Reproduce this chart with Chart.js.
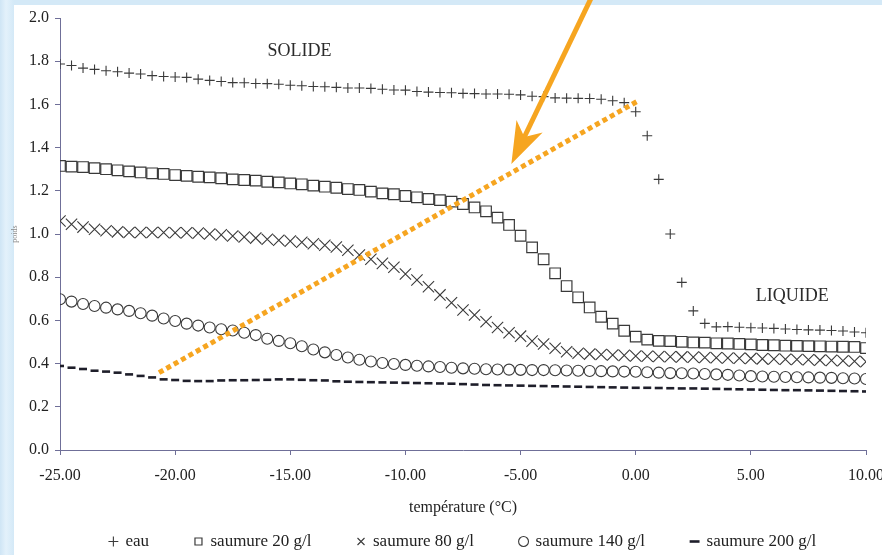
<!DOCTYPE html>
<html>
<head>
<meta charset="utf-8">
<script src="https://cdn.jsdelivr.net/npm/chart.js@4/dist/chart.umd.min.js"></script>
<style>
  html, body { margin: 0; padding: 0; }
  body {
    width: 882px; height: 555px; overflow: hidden; position: relative;
    background: linear-gradient(90deg, #cfe5f5 0px, #e3f1fb 6px, #d4e9f7 14px);
  }
  #panel { position: absolute; left: 14px; top: 5px; right: 0; bottom: 0; background: #ffffff; }
  #wrap { position: absolute; left: 0; top: 0; width: 882px; height: 555px; }
</style>
</head>
<body>
<div id="panel"></div>
<div id="wrap"><canvas id="chart" width="882" height="555"></canvas></div>
<script>
// Température (°C), one reading every 0.5 °C
const temperatures = [
  -25, -24.5, -24, -23.5, -23, -22.5, -22, -21.5, -21, -20.5,
  -20, -19.5, -19, -18.5, -18, -17.5, -17, -16.5, -16, -15.5,
  -15, -14.5, -14, -13.5, -13, -12.5, -12, -11.5, -11, -10.5,
  -10, -9.5, -9, -8.5, -8, -7.5, -7, -6.5, -6, -5.5,
  -5, -4.5, -4, -3.5, -3, -2.5, -2, -1.5, -1, -0.5,
  0, 0.5, 1, 1.5, 2, 2.5, 3, 3.5, 4, 4.5,
  5, 5.5, 6, 6.5, 7, 7.5, 8, 8.5, 9, 9.5,
  10
];

const eau = [
  1.787, 1.780, 1.768, 1.762, 1.756, 1.751, 1.745, 1.741, 1.733, 1.729,
  1.727, 1.725, 1.717, 1.711, 1.706, 1.701, 1.700, 1.697, 1.696, 1.693,
  1.689, 1.686, 1.683, 1.682, 1.679, 1.676, 1.676, 1.674, 1.670, 1.667,
  1.666, 1.660, 1.657, 1.655, 1.654, 1.651, 1.650, 1.648, 1.648, 1.647,
  1.644, 1.638, 1.636, 1.630, 1.629, 1.628, 1.627, 1.624, 1.617, 1.608,
  1.566, 1.455, 1.253, 1.000, 0.776, 0.644, 0.586, 0.570, 0.571, 0.568,
  0.566, 0.565, 0.563, 0.560, 0.558, 0.556, 0.555, 0.553, 0.551, 0.546,
  0.543
];

const saumure20 = [
  1.315, 1.312, 1.310, 1.305, 1.300, 1.295, 1.290, 1.285, 1.281, 1.278,
  1.273, 1.269, 1.265, 1.262, 1.258, 1.253, 1.250, 1.247, 1.242, 1.239,
  1.234, 1.230, 1.224, 1.219, 1.214, 1.208, 1.204, 1.196, 1.188, 1.184,
  1.176, 1.170, 1.162, 1.157, 1.150, 1.139, 1.123, 1.105, 1.076, 1.042,
  0.992, 0.938, 0.883, 0.818, 0.759, 0.707, 0.660, 0.617, 0.585, 0.552,
  0.525, 0.511, 0.505, 0.504, 0.501, 0.498, 0.497, 0.494, 0.493, 0.491,
  0.489, 0.486, 0.485, 0.483, 0.482, 0.481, 0.480, 0.479, 0.478, 0.477,
  0.472
];

const saumure80 = [
  1.060, 1.045, 1.032, 1.022, 1.015, 1.010, 1.007, 1.007, 1.007, 1.007,
  1.006, 1.006, 1.004, 1.000, 0.996, 0.991, 0.986, 0.981, 0.976, 0.971,
  0.967, 0.962, 0.955, 0.948, 0.940, 0.925, 0.903, 0.883, 0.864, 0.846,
  0.815, 0.787, 0.756, 0.718, 0.682, 0.648, 0.625, 0.594, 0.567, 0.543,
  0.527, 0.504, 0.491, 0.471, 0.455, 0.448, 0.444, 0.442, 0.440, 0.438,
  0.435, 0.434, 0.433, 0.432, 0.431, 0.430, 0.428, 0.427, 0.426, 0.425,
  0.424, 0.422, 0.421, 0.420, 0.419, 0.418, 0.416, 0.415, 0.413, 0.411,
  0.409
];

const saumure140 = [
  0.698, 0.687, 0.676, 0.667, 0.659, 0.651, 0.644, 0.633, 0.622, 0.609,
  0.597, 0.585, 0.576, 0.567, 0.559, 0.553, 0.543, 0.532, 0.515, 0.505,
  0.494, 0.480, 0.465, 0.452, 0.440, 0.428, 0.418, 0.410, 0.403, 0.398,
  0.394, 0.390, 0.387, 0.384, 0.381, 0.378, 0.376, 0.374, 0.373, 0.372,
  0.371, 0.370, 0.370, 0.369, 0.368, 0.367, 0.366, 0.365, 0.364, 0.363,
  0.362, 0.360, 0.358, 0.356, 0.355, 0.354, 0.352, 0.350, 0.348, 0.345,
  0.342, 0.340, 0.339, 0.338, 0.337, 0.336, 0.335, 0.334, 0.332, 0.331,
  0.329
];

const saumure200 = [
  0.389, 0.381, 0.375, 0.367, 0.363, 0.358, 0.350, 0.343, 0.336, 0.327,
  0.324, 0.320, 0.319, 0.319, 0.322, 0.323, 0.323, 0.324, 0.325, 0.327,
  0.327, 0.325, 0.323, 0.322, 0.318, 0.316, 0.315, 0.314, 0.313, 0.312,
  0.311, 0.310, 0.309, 0.308, 0.307, 0.305, 0.303, 0.301, 0.300, 0.299,
  0.298, 0.297, 0.296, 0.295, 0.294, 0.293, 0.292, 0.291, 0.290, 0.289,
  0.288, 0.288, 0.287, 0.286, 0.285, 0.285, 0.284, 0.283, 0.282, 0.281,
  0.280, 0.279, 0.278, 0.277, 0.277, 0.276, 0.275, 0.274, 0.273, 0.272,
  0.271
];

const seriesLabels = ['eau', 'saumure 20 g/l', 'saumure 80 g/l', 'saumure 140 g/l', 'saumure 200 g/l'];

// Overlay: dotted trend line, arrow and phase labels (in data units)
const trendLine = { from: [-20.7, 0.358], to: [0.05, 1.613] };
const arrow = { tip: [-5.4, 1.324], tail: [-1.45, 2.2] };
const phaseLabels = [
  { text: 'SOLIDE', at: [-14.6, 1.845] },
  { text: 'LIQUIDE', at: [6.8, 0.713] }
];

const SERIF = '"Liberation Serif", "DejaVu Serif", serif';
const INK = '#3a3a3a';
const AXIS = '#6f6f98';
const ORANGE = '#f6a520';

function toPoints(values) {
  return temperatures.map((t, i) => ({ x: t, y: values[i] }));
}

function markerSet(label, values, style, radius, width, color) {
  return {
    label: label,
    data: toPoints(values),
    showLine: false,
    pointStyle: style,
    pointRadius: radius,
    pointBorderWidth: width,
    borderWidth: width,
    borderColor: color,
    pointBorderColor: color,
    backgroundColor: 'rgba(0,0,0,0)',
    pointBackgroundColor: 'rgba(0,0,0,0)'
  };
}

const overlay = {
  id: 'overlay',
  afterDatasetsDraw(chart) {
    const { ctx, scales: { x, y } } = chart;
    const px = p => [x.getPixelForValue(p[0]), y.getPixelForValue(p[1])];
    ctx.save();

    // dotted orange line
    const a = px(trendLine.from), b = px(trendLine.to);
    ctx.strokeStyle = ORANGE;
    ctx.lineWidth = 5;
    ctx.lineCap = 'butt';
    ctx.setLineDash([5, 3.5]);
    ctx.beginPath();
    ctx.moveTo(a[0], a[1]);
    ctx.lineTo(b[0], b[1]);
    ctx.stroke();
    ctx.setLineDash([]);

    // orange arrow
    const tip = px(arrow.tip), tail = px(arrow.tail);
    const dx = tail[0] - tip[0], dy = tail[1] - tip[1];
    const len = Math.hypot(dx, dy);
    const ux = dx / len, uy = dy / len, nx = -uy, ny = ux;
    const headLen = 42, headHalf = 14.5, notch = 30;
    ctx.fillStyle = ORANGE;
    ctx.lineWidth = 5;
    ctx.beginPath();
    ctx.moveTo(tip[0] + ux * notch, tip[1] + uy * notch);
    ctx.lineTo(tail[0], tail[1]);
    ctx.stroke();
    ctx.beginPath();
    ctx.moveTo(tip[0], tip[1]);
    ctx.lineTo(tip[0] + ux * headLen + nx * headHalf, tip[1] + uy * headLen + ny * headHalf);
    ctx.lineTo(tip[0] + ux * notch, tip[1] + uy * notch);
    ctx.lineTo(tip[0] + ux * headLen - nx * headHalf, tip[1] + uy * headLen - ny * headHalf);
    ctx.closePath();
    ctx.fill();

    // phase labels
    ctx.fillStyle = '#2b2b2b';
    ctx.font = '18px ' + SERIF;
    ctx.textAlign = 'center';
    ctx.textBaseline = 'middle';
    phaseLabels.forEach(l => {
      const p = px(l.at);
      ctx.fillText(l.text, p[0], p[1]);
    });
    ctx.restore();
  }
};

Chart.defaults.font.family = SERIF;
Chart.defaults.color = '#222';

new Chart(document.getElementById('chart'), {
  type: 'scatter',
  data: {
    datasets: [
      markerSet(seriesLabels[0], eau, 'cross', 5, 1.1, INK),
      markerSet(seriesLabels[1], saumure20, 'rect', 7.5, 1.2, INK),
      markerSet(seriesLabels[2], saumure80, 'crossRot', 8, 1.1, INK),
      markerSet(seriesLabels[3], saumure140, 'circle', 5.5, 1.1, INK),
      markerSet(seriesLabels[4], saumure200, 'line', 4, 2.6, '#1e1e2a')
    ]
  },
  options: {
    responsive: false,
    animation: false,
    events: [],
    layout: { padding: { left: 0, right: 16, top: 18, bottom: -5 } },
    plugins: {
      tooltip: { enabled: false },
      legend: {
        position: 'bottom',
        fullSize: false,
        labels: {
          usePointStyle: true,
          boxWidth: 7,
          boxHeight: 7,
          padding: 46,
          color: '#222',
          font: { size: 17, family: SERIF }
        }
      }
    },
    scales: {
      x: {
        type: 'linear',
        min: -25,
        max: 10,
        ticks: {
          stepSize: 5,
          padding: 11,
          color: '#222',
          font: { size: 16, family: SERIF },
          callback: v => Number(v).toFixed(2)
        },
        grid: { display: true, drawOnChartArea: false, drawTicks: true, tickLength: 5, color: AXIS },
        border: { display: true, color: AXIS, width: 1 },
        title: {
          display: true,
          text: 'température (°C)',
          color: '#222',
          font: { size: 16, family: SERIF },
          padding: { top: 0, bottom: -30 }
        },
        afterFit(scale) {
          scale.height = 37;
          scale.paddingLeft = 0;
          scale.paddingRight = 0;
        }
      },
      y: {
        type: 'linear',
        min: 0,
        max: 2,
        ticks: {
          stepSize: 0.2,
          padding: 6,
          color: '#222',
          font: { size: 16, family: SERIF },
          callback: v => Number(v).toFixed(1)
        },
        grid: { display: true, drawOnChartArea: false, drawTicks: true, tickLength: 5, color: AXIS },
        border: { display: true, color: AXIS, width: 1 },
        title: {
          display: true,
          text: 'poids',
          color: '#8a8a8a',
          font: { size: 8, family: SERIF },
          padding: { top: 10, bottom: 0 }
        },
        afterFit(scale) {
          scale.width = 60;
        }
      }
    }
  },
  plugins: [overlay]
});
</script>
</body>
</html>
